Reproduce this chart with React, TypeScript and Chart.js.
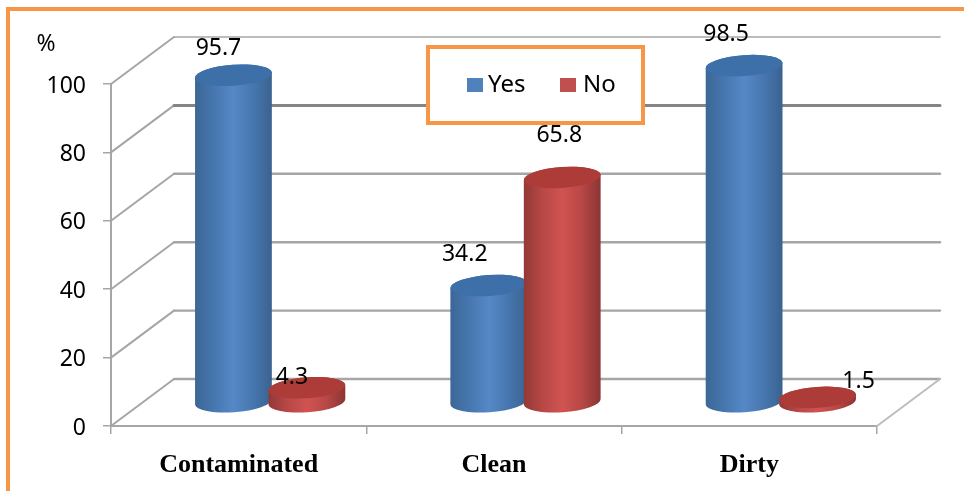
import React, { useEffect, useRef } from "react";
import { Chart, registerables } from "chart.js";

Chart.register(...registerables);

const categories = ["Contaminated", "Clean", "Dirty"];
const yesValues = [95.7, 34.2, 98.5];
const noValues = [4.3, 65.8, 1.5];
const yTicks = [0, 20, 40, 60, 80, 100];

const WIDTH = 964;
const HEIGHT = 491;
const ORANGE = "#F79646";
const WALL_GREY = "#A6A6A6";
const LABEL_FONT = '"Noto Sans", sans-serif';

// Depth of the 3D box: the back wall is shifted by this much from the front plane.
const DEPTH_X = 63;
const DEPTH_Y = -47;
const RY = 10.5;
const TILT = -0.07;

const blueShade = {
  stops: ["#3C6796", "#4777AF", "#5588C6", "#4777AF", "#3A6290"],
  cap: "#3D6FA9",
};
const redShade = {
  stops: ["#923937", "#B84846", "#D05351", "#B84846", "#8A3533"],
  cap: "#AD3C39",
};

// Label nudges from the top of each cylinder, per series and category.
const yesLabelOffsets = [[-15, -27], [-24, -31], [-18, -31]];
const noLabelOffsets = [[-15, -10], [-3, -42], [41, -16]];

function drawCylinder(ctx: CanvasRenderingContext2D, bar: any, shade: typeof blueShade) {
  const r = bar.width / 2;
  const x = bar.x + DEPTH_X / 2;
  const top = bar.y + DEPTH_Y / 2;
  const base = bar.base + DEPTH_Y / 2;
  const grad = ctx.createLinearGradient(x - r, 0, x + r, 0);
  shade.stops.forEach((c, i) => grad.addColorStop(i / (shade.stops.length - 1), c));
  ctx.beginPath();
  ctx.ellipse(x, base, r, RY, TILT, Math.PI, 0, true);
  ctx.ellipse(x, top, r, RY, TILT, 0, Math.PI, true);
  ctx.closePath();
  ctx.fillStyle = grad;
  ctx.fill();
  ctx.beginPath();
  ctx.ellipse(x, top, r, RY, TILT, 0, Math.PI * 2);
  ctx.fillStyle = shade.cap;
  ctx.fill();
}

// Back wall, side wall and floor edges, followed by the cylinders themselves.
const cylinderScene = {
  id: "cylinderScene",
  beforeDatasetsDraw(chart: any) {
    const { ctx, scales, chartArea } = chart;
    ctx.save();
    ctx.lineCap = "round";
    for (const v of yTicks) {
      const y = scales.y.getPixelForValue(v);
      ctx.strokeStyle = WALL_GREY;
      ctx.lineWidth = 2;
      ctx.beginPath();
      ctx.moveTo(chartArea.left, y);
      ctx.lineTo(chartArea.left + DEPTH_X, y + DEPTH_Y);
      ctx.stroke();
      ctx.strokeStyle = v === 80 ? "#858585" : WALL_GREY;
      ctx.lineWidth = v === 80 ? 3 : v === 100 ? 1.6 : 2.4;
      ctx.beginPath();
      ctx.moveTo(chartArea.left + DEPTH_X, y + DEPTH_Y);
      ctx.lineTo(chartArea.right + DEPTH_X, y + DEPTH_Y);
      ctx.stroke();
    }
    ctx.strokeStyle = "#BDBDBD";
    ctx.lineWidth = 2;
    ctx.beginPath();
    ctx.moveTo(chartArea.right, chartArea.bottom);
    ctx.lineTo(chartArea.right + DEPTH_X, chartArea.bottom + DEPTH_Y);
    ctx.stroke();
    ctx.restore();

    chart.getDatasetMeta(0).data.forEach((bar: any) => drawCylinder(ctx, bar, blueShade));
    chart.getDatasetMeta(1).data.forEach((bar: any) => drawCylinder(ctx, bar, redShade));
    return false;
  },
  afterDraw(chart: any) {
    const { ctx } = chart;
    ctx.save();
    ctx.fillStyle = "#000";
    ctx.font = `23px ${LABEL_FONT}`;
    ctx.textAlign = "center";
    ctx.textBaseline = "middle";
    [yesLabelOffsets, noLabelOffsets].forEach((offsets, ds) => {
      chart.getDatasetMeta(ds).data.forEach((bar: any, i: number) => {
        const value = chart.data.datasets[ds].data[i];
        const x = bar.x + DEPTH_X / 2 + offsets[i][0];
        const y = bar.y + DEPTH_Y / 2 + offsets[i][1];
        ctx.fillText(value.toFixed(1), x, y);
      });
    });
    ctx.fillText("%", 46, 44);

    // Legend box
    ctx.fillStyle = "#fff";
    ctx.fillRect(428, 47, 215, 76);
    ctx.strokeStyle = ORANGE;
    ctx.lineWidth = 4;
    ctx.strokeRect(428, 47, 215, 76);
    ctx.textAlign = "left";
    ctx.font = `24px ${LABEL_FONT}`;
    const entries = [
      { x: 467, textX: 488 },
      { x: 560, textX: 583 },
    ];
    entries.forEach((entry, i) => {
      const ds = chart.data.datasets[i];
      ctx.fillStyle = ds.backgroundColor;
      ctx.fillRect(entry.x, 78, 16, 14);
      ctx.fillStyle = "#000";
      ctx.fillText(ds.label, entry.textX, 85);
    });

    // Orange frame along the top and left edges of the figure
    ctx.strokeStyle = ORANGE;
    ctx.lineWidth = 4;
    ctx.beginPath();
    ctx.moveTo(8, HEIGHT);
    ctx.lineTo(8, 9);
    ctx.lineTo(WIDTH, 9);
    ctx.stroke();
    ctx.restore();
  },
};

export default function App() {
  const canvasRef = useRef<HTMLCanvasElement>(null);

  useEffect(() => {
    const chart = new Chart(canvasRef.current!, {
      type: "bar",
      data: {
        labels: categories,
        datasets: [
          { label: "Yes", data: yesValues, backgroundColor: "#4F81BD" },
          { label: "No", data: noValues, backgroundColor: "#C0504D" },
        ],
      },
      plugins: [cylinderScene],
      options: {
        responsive: false,
        animation: false,
        categoryPercentage: 0.5753,
        barPercentage: 1.048,
        layout: { padding: { left: 0, top: 84, right: WIDTH - 877, bottom: 0 } },
        plugins: {
          legend: { display: false },
          title: { display: false },
          tooltip: { enabled: false },
        },
        scales: {
          x: {
            afterFit(scale: any) {
              scale.height = HEIGHT - 426;
            },
            grid: {
              drawOnChartArea: false,
              drawTicks: true,
              tickLength: 8,
              color: WALL_GREY,
              lineWidth: 1.5,
            },
            border: { color: WALL_GREY, width: 2 },
            ticks: {
              color: "#000",
              padding: 16,
              maxRotation: 0,
              font: { family: '"Liberation Serif", serif', size: 26, weight: "bold" },
            },
          },
          y: {
            min: 0,
            max: 100,
            afterFit(scale: any) {
              scale.width = 111;
            },
            grid: {
              drawOnChartArea: false,
              drawTicks: true,
              tickLength: 8,
              color: WALL_GREY,
              lineWidth: 1.5,
            },
            border: { color: WALL_GREY, width: 2 },
            ticks: {
              stepSize: 20,
              color: "#000",
              padding: 17,
              labelOffset: 2,
              font: { family: LABEL_FONT, size: 23 },
            },
          },
        },
      },
    } as any);
    return () => chart.destroy();
  }, []);

  return (
    <div style={{ position: "fixed", left: 0, top: 0, width: WIDTH, height: HEIGHT, background: "#fff" }}>
      <canvas ref={canvasRef} width={WIDTH} height={HEIGHT} style={{ display: "block" }} />
    </div>
  );
}
